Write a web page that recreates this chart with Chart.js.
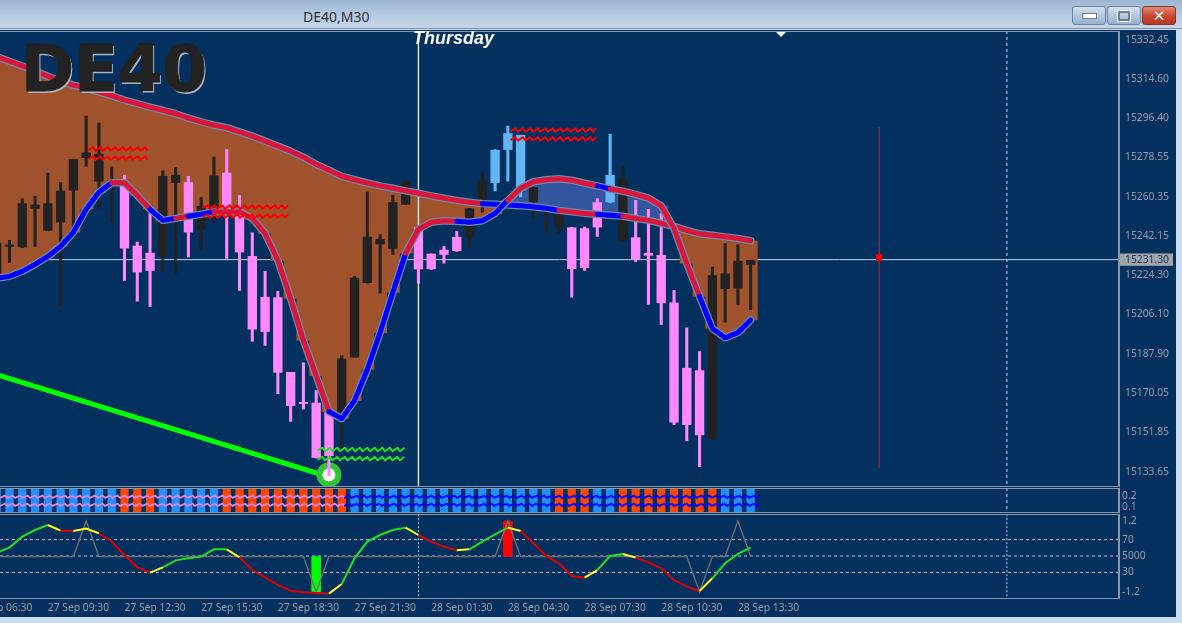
<!DOCTYPE html>
<html><head><meta charset="utf-8">
<script src="https://cdn.jsdelivr.net/npm/chart.js@4"></script>
<style>
html,body{margin:0;padding:0;width:1182px;height:623px;overflow:hidden;background:#c9dcf0;font-family:"Noto Sans",sans-serif}
#titlebar{position:absolute;left:0;top:0;width:1182px;height:29px;background:linear-gradient(#9db6d3,#b9cde3 60%,#c4d6ea);border-bottom:1px solid #7f93a8;box-sizing:border-box}
#title{position:absolute;left:303px;top:7px;font-size:14px;line-height:20px;color:#2b2f36}
.btn{position:absolute;top:6px;height:19px;border:1px solid #6f859c;border-radius:3px;box-sizing:border-box;background:linear-gradient(#d3e0ee,#b4c8de 50%,#98b2cf)}
#close{background:linear-gradient(#e48a74,#c9452f 55%,#b23a28);border-color:#7a3a30}
.glyph{position:absolute;left:0;top:0;width:100%;height:100%;display:flex;align-items:center;justify-content:center}
#panel{position:absolute;left:0;top:30px;width:1176px;height:587px;background:#03305f}
canvas{position:absolute;left:0;display:block}
.frame{position:absolute;left:-2px;width:1121px;border:1px solid #8a97a6;box-sizing:border-box;pointer-events:none}
#thu{position:absolute;left:413px;top:27px;font:italic bold 18px "Liberation Sans",sans-serif;line-height:22px;color:#fff}
#mark{position:absolute;left:776px;top:32px;width:0;height:0;border-left:5px solid transparent;border-right:5px solid transparent;border-top:5px solid #fff}
#sym{position:absolute;left:21px;top:31px;font:bold 64px "DejaVu Sans",sans-serif;line-height:76px;color:#222;-webkit-text-stroke:1px #222;text-shadow:1.5px 1.5px 0 #aab4be}
</style></head><body>
<div id="titlebar"><div id="title">DE40,M30</div>
<div class="btn" style="left:1072px;width:34px"><div class="glyph"><div style="width:13px;height:4px;background:#fff;border:1px solid #6d7f92"></div></div></div>
<div class="btn" style="left:1107px;width:34px"><div class="glyph"><div style="width:8px;height:6px;border:2px solid #6d7f92;outline:1px solid #fff"></div></div></div>
<div class="btn" id="close" style="left:1142px;width:34px"><div class="glyph" style="color:#fff;font:bold 15px 'DejaVu Sans'">✕</div></div>
</div>
<div id="panel"></div>
<canvas id="mainC" width="1176" height="456" style="top:31px"></canvas>
<canvas id="stripC" width="1176" height="25" style="top:488px"></canvas>
<canvas id="oscC" width="1176" height="103" style="top:514px"></canvas>
<div class="frame" style="top:31px;height:456px"></div>
<div class="frame" style="top:488px;height:25px"></div>
<div class="frame" style="top:514px;height:85px"></div>
<div id="thu">Thursday</div><div id="mark"></div><div id="sym">DE40</div>
<script>
// ---- candles (bar index -> price) ----
const wickHigh=[15238.8,15240.2,15259.4,15260.5,15271.2,15266.8,15277.6,15297.4,15294.2,15274.0,15270.2,15239.4,15252.6,15272.2,15273.7,15269.7,15259.9,15278.6,15282.0,15260.9,15243.7,15225.9,15216.7,15179.4,15183.8,15171.0,15161.3,15187.1,15223.6,15262.5,15242.8,15260.9,15267.9,15246.3,15233.9,15237.4,15244.3,15254.9,15271.6,15282.0,15292.8,15288.6,15264.6,15256.3,15254.9,15246.2,15246.3,15259.4,15289.1,15274.5,15258.6,15254.5,15252.5,15217.1,15199.9,15189.0,15227.9,15238.7,15238.2,15231.0];
const bodyHigh=[15238.8,15238.1,15257.1,15256.5,15257.1,15262.9,15277.4,15280.5,15279.9,15267.9,15266.8,15237.6,15234.3,15269.7,15270.2,15266.8,15255.9,15269.9,15271.2,15251.7,15232.8,15214.0,15213.8,15179.4,15165.6,15165.3,15161.0,15185.6,15222.8,15241.7,15240.7,15257.6,15267.1,15246.2,15233.9,15235.7,15241.6,15254.8,15267.4,15281.7,15289.4,15288.6,15264.5,15255.9,15254.5,15246.0,15245.6,15257.6,15270.2,15268.3,15241.4,15234.2,15233.3,15211.4,15181.3,15180.2,15224.0,15224.8,15230.6,15231.0];
const bodyLow=[15225.0,15237.4,15237.1,15254.9,15244.8,15248.6,15263.3,15278.3,15267.4,15266.0,15236.6,15225.6,15226.3,15233.3,15266.8,15244.0,15245.1,15255.4,15253.1,15234.8,15199.3,15198.2,15179.4,15164.1,15165.0,15140.2,15141.0,15158.1,15186.4,15220.7,15238.5,15236.5,15256.8,15227.0,15227.1,15233.7,15235.4,15241.7,15257.3,15266.8,15282.0,15263.3,15257.9,15253.1,15246.3,15227.1,15227.6,15246.3,15257.9,15240.2,15231.7,15233.3,15211.4,15156.4,15155.3,15150.6,15148.7,15217.9,15218.2,15229.1];
const wickLow=[15225.0,15230.0,15236.8,15237.4,15244.8,15210.2,15241.7,15274.3,15254.9,15248.6,15221.7,15212.2,15209.7,15226.0,15224.8,15232.5,15235.6,15248.5,15231.9,15217.1,15193.7,15191.8,15169.5,15156.8,15162.5,15139.9,15131.8,15144.2,15186.4,15220.5,15215.9,15233.7,15256.8,15220.4,15226.7,15229.7,15235.1,15237.1,15253.2,15262.9,15267.5,15260.2,15250.2,15244.0,15243.6,15214.0,15226.3,15242.0,15257.4,15239.9,15230.4,15210.7,15201.4,15155.3,15147.9,15135.9,15148.6,15202.5,15210.7,15208.2];
// 0 black, 1 pink, 2 light blue
const candleKind=[0,0,0,0,0,0,0,0,0,0,1,1,1,0,0,1,0,0,1,1,1,1,1,1,1,1,1,0,0,0,0,0,0,1,1,1,1,0,0,2,2,2,0,0,0,1,1,1,2,0,1,1,1,1,1,1,0,0,0,0];
// ---- moving averages (prices) and colour state per segment: 0 red, 1 blue ----
const slowLine=[15324.8,15322.7,15320.5,15318.2,15315.8,15313.5,15311.7,15310.3,15308.5,15306.8,15304.8,15303.2,15301.5,15300.1,15298.5,15296.5,15294.8,15293.2,15292.1,15290.2,15288.2,15285.9,15283.6,15281.2,15278.5,15275.2,15272.5,15269.7,15268.1,15266.6,15265.3,15264.2,15263.0,15261.9,15260.7,15259.6,15258.6,15257.7,15257.1,15256.8,15256.5,15256.1,15255.7,15255.0,15254.0,15253.3,15252.6,15252.2,15251.7,15251.3,15250.3,15249.4,15248.0,15246.6,15244.8,15243.2,15242.5,15241.8,15241.1,15240.0];
const fastLine=[15222.7,15223.6,15225.9,15229.1,15232.8,15237.4,15243.9,15254.5,15262.3,15266.7,15266.7,15260.9,15254.5,15249.4,15250.3,15251.3,15252.2,15253.3,15253.3,15253.3,15250.3,15243.4,15231.0,15213.4,15194.1,15177.9,15161.3,15158.1,15166.4,15180.7,15197.7,15216.2,15234.2,15245.3,15248.5,15249.2,15249.0,15248.5,15249.2,15252.6,15258.6,15264.2,15267.2,15268.1,15268.6,15267.9,15266.5,15265.3,15263.9,15262.8,15261.4,15259.6,15256.1,15245.7,15229.6,15214.4,15199.6,15195.3,15197.7,15203.5];
const slowState=[0,0,0,0,0,0,0,0,0,0,0,0,0,0,0,0,0,0,0,0,0,0,0,0,0,0,0,0,0,0,0,0,0,0,0,0,0,0,1,1,1,1,1,1,0,0,0,1,1,0,0,0,0,0,0,0,0,0,0,0];
const fastState=[1,1,1,1,1,1,1,1,1,0,0,0,1,1,0,1,1,0,0,0,0,0,0,0,0,0,1,1,1,1,1,1,0,0,0,0,1,1,1,1,0,0,0,0,0,0,0,1,0,0,0,0,0,0,0,1,1,1,1,1];
// ---- annotations ----
const bidPrice=15231.30;
const priceTicks=[15332.45,15314.60,15296.40,15278.55,15260.35,15242.15,15224.30,15206.10,15187.90,15170.05,15151.85,15133.65];
const daySeparator=33, futureSeparator=79.05, signalBar=69.05, signalTop=15292.3, signalBottom=15135.5, signalPrice=15232.3;
const trendBars=[0,26], trendPrices=[15178.4,15131.3];
const circleBar=26, circlePrice=15132.2;
const waveBands=[[7.15,11.8,15282.2,15278.0,'#ff0000'],[16.1,22.8,15255.4,15251.3,'#ff0000'],[40.2,46.9,15290.9,15286.8,'#ff0000'],[25.1,31.9,15143.8,15139.6,'#22e022']];
// ---- strip panel ----
const stripLabels=[0.2,0.1];
const stripState=[0,0,0,0,0,0,0,0,0,0,1,1,1,0,0,0,0,0,1,1,1,1,1,1,1,1,1,1,0,0,0,0,0,0,0,0,0,0,0,0,0,0,0,0,1,1,1,0,0,1,1,1,1,1,1,1,1,0,0,0];
// ---- oscillator panel ----
const oscValues=[54.1,60.2,73.6,81.7,87.8,80.9,80.5,83.4,77.7,67.5,51.2,36.2,29.7,36.2,44.7,47.2,49.2,58.1,58.1,48.4,32.9,24.0,14.7,7.7,5.7,4.9,4.1,15.9,47.2,67.5,75.6,81.7,84.6,75.6,67.5,61.4,56.9,58.1,67.5,76.4,84.6,80.5,65.5,50.0,41.1,25.6,23.6,32.9,50.0,52.5,48.0,42.3,35.0,20.7,12.6,7.3,22.8,41.1,52.5,60.2];
const oscState=[1,1,1,1,0,-1,0,0,-1,-1,-1,-1,0,1,1,1,1,1,0,-1,-1,-1,-1,-1,-1,-1,0,1,1,1,1,1,0,-1,-1,-1,0,1,1,1,0,-1,-1,-1,-1,-1,0,1,1,0,-1,-1,-1,-1,-1,0,1,1,1,1];
const signalHist=[0,0,0,0,0,0,0,1.2,0,0,0,0,0,0,0,0,0,0,0,0,0,0,0,0,0,-1.2,0,0,0,0,0,0,0,0,0,0,0,0,0,0,1.2,0,0,0,0,0,0,0,0,0,0,0,0,0,0,-1.2,0,0,1.2,0];
const spikeBars=[[25,-1.2,'#00ff00'],[40,1.2,'#ff0000']];
const oscLevels=[70,50,30];
const oscTickValues=[92.7,70,50,30,5.7];
const oscTickLabels=['1.2','70','5000','30','-1.2'];
const timeTicks=[-2,4,10,16,22,28,34,40,46,52,58];
const timeLabels=['27 Sep 06:30','27 Sep 09:30','27 Sep 12:30','27 Sep 15:30','27 Sep 18:30','27 Sep 21:30','28 Sep 01:30','28 Sep 04:30','28 Sep 07:30','28 Sep 10:30','28 Sep 13:30'];

// ---- styling and layout ----
const TICK='#8f9cab', FONT={family:'"Noto Sans"',size:10.3};
const barsIdx=wickHigh.map((_,i)=>i);
const xMin=0.258, xMax=87.82;
const kindColor=['#222222','#ff88ff','#62b6f5'];
const MA={0:'#dc143c',1:'#0000ff'};
const OSC={'1':'#22dd22','0':'#ffff22','-1':'#e00000'};
function xScale(display){return {type:'linear',min:xMin,max:xMax,offset:false,display:display===true,grid:{display:false},border:{display:false},ticks:{display:false},afterFit(s){s.paddingLeft=s.paddingRight=s.paddingTop=s.paddingBottom=0;}};}
function yScale(min,max,vals,o={}){return Object.assign({type:'linear',position:'right',min,max,grid:{display:false},border:{display:true,color:'#8a97a6'},
 afterBuildTicks(s){s.ticks=vals.map(v=>({value:v}));},
 afterFit(s){s.width=57;s.paddingTop=s.paddingBottom=0;}},o);}
function pts(xs,ys){return xs.map((x,i)=>({x,y:ys[i]}));}
function wavePlugin(bands,scaleId,amp){return {id:'waves'+scaleId,afterDatasetsDraw(c){
  const g=c.ctx,X=c.scales.x,Y=c.scales[scaleId];
  g.save();g.lineWidth=1.9;g.lineJoin='round';
  for(const [a,b,p1,p2,col,split,col2] of bands){for(const p of [p1,p2]){
    const draw=(from,to,cl)=>{const x0=X.getPixelForValue(from),x1=X.getPixelForValue(to),y=Y.getPixelForValue(p);
      g.strokeStyle=cl;g.beginPath();g.moveTo(x0,y+1);let x=x0,n=0;
      while(x<x1){x+=n%2?2.6:4.9;g.lineTo(Math.min(x,x1),y+(n%2?amp*0.8:-amp));n++;}g.stroke();};
    if(split!==undefined){draw(a,split,col);draw(split,b,col2);}else draw(a,b,col);
  }}
  g.restore();}};}
Chart.defaults.animation=false;Chart.defaults.responsive=false;Chart.defaults.font=FONT;
const base={responsive:false,animation:false,layout:{padding:0,autoPadding:false},plugins:{legend:{display:false},tooltip:{enabled:false}},events:[]};

const cloud=barsIdx.map(i=>({x:i,y:[Math.min(slowLine[i],fastLine[i]),Math.max(slowLine[i],fastLine[i])]}));
const cloudColors=barsIdx.map(i=>slowLine[i]>=fastLine[i]?'#a0522d':'#3355a0');
function maDatasets(vals,state,o){return [
 {type:'line',data:pts(barsIdx,vals),borderColor:'#6f8aa6',borderWidth:7.5,pointRadius:0,tension:0,order:o+1,borderJoinStyle:'round',borderCapStyle:'round'},
 {type:'line',data:pts(barsIdx,vals),borderColor:MA[0],borderWidth:5,pointRadius:0,tension:0,order:o,borderCapStyle:'round',borderJoinStyle:'round',
  segment:{borderColor:c=>MA[state[c.p0DataIndex]]}}];}

new Chart(document.getElementById('mainC'),{type:'bar',data:{datasets:[
 {type:'line',data:[{x:xMin,y:bidPrice},{x:xMax,y:bidPrice}],borderColor:'#c3ced8',borderWidth:1,pointRadius:0,order:30},
 {type:'bar',data:cloud,backgroundColor:cloudColors,barThickness:13.3,grouped:false,order:25},
 {type:'line',data:[{x:daySeparator,y:15336.6},{x:daySeparator,y:15126.6}],borderColor:'#e8edf2',borderWidth:1.4,pointRadius:0,order:20},
 {type:'line',data:[{x:futureSeparator,y:15336.6},{x:futureSeparator,y:15126.6}],borderColor:'#c3ced8',borderWidth:1,borderDash:[3,3],pointRadius:0,order:20},
 {type:'line',data:[{x:signalBar,y:signalTop},{x:signalBar,y:signalBottom}],borderColor:'#8e2a35',borderWidth:1.4,pointRadius:0,order:20},
 {type:'line',data:[{x:signalBar,y:signalPrice}],pointStyle:'rect',pointRadius:4.5,pointBackgroundColor:'#ff0000',pointBorderWidth:0,showLine:false,order:19},
 {type:'line',data:pts(trendBars,trendPrices),borderColor:'#00ff00',borderWidth:5,pointRadius:0,order:18},
 {type:'line',data:[{x:circleBar,y:circlePrice}],pointRadius:9.5,pointBorderWidth:6,pointBackgroundColor:'#fff',pointBorderColor:'#33c433',showLine:false,order:17},
 {type:'bar',data:barsIdx.map(i=>({x:i,y:[wickLow[i],wickHigh[i]]})),backgroundColor:barsIdx.map(i=>kindColor[candleKind[i]]),barThickness:2.4,grouped:false,order:12},
 {type:'bar',data:barsIdx.map(i=>({x:i,y:[bodyLow[i],bodyHigh[i]]})),backgroundColor:barsIdx.map(i=>kindColor[candleKind[i]]),barThickness:8.7,grouped:false,order:11},
 ...maDatasets(slowLine,slowState,4),...maDatasets(fastLine,fastState,2)
]},options:{...base,scales:{x:xScale(),y:yScale(15126.6,15336.6,[...priceTicks,bidPrice],{
 grid:{display:false,drawTicks:true,tickLength:3,tickColor:'#8a97a6'},
 ticks:{padding:3,crossAlign:'near',font:FONT,autoSkip:false,
  color:c=>c.tick.value===bidPrice?'#12345a':TICK,
  showLabelBackdrop:c=>c.tick.value===bidPrice,backdropColor:'#a0a6a8',backdropPadding:{top:0,bottom:0,left:5,right:4},
  callback:v=>v.toFixed(2)}})}},plugins:[wavePlugin(waveBands,'y',2)]});

const stripTop=0.275, stripBot=0.043;
new Chart(document.getElementById('stripC'),{type:'bar',data:{datasets:[
 {type:'line',data:[{x:futureSeparator,y:stripTop},{x:futureSeparator,y:stripBot}],borderColor:'#c3ced8',borderWidth:1,borderDash:[3,3],pointRadius:0,order:5},
 {type:'bar',data:barsIdx.map(i=>({x:i,y:[stripBot,stripTop]})),backgroundColor:barsIdx.map(i=>stripState[i]?'#ff4500':'#1e90ff'),barThickness:7.6,grouped:false,order:3}
]},options:{...base,scales:{x:xScale(),y:yScale(stripBot,stripTop,stripLabels,{
 ticks:{padding:3,crossAlign:'near',color:TICK,font:FONT,autoSkip:false,callback:v=>v.toFixed(1)},grid:{display:false,drawTicks:false}})}},
 plugins:[wavePlugin([[0.26,59.7,0.193,0.118,'#e080e0',27.2,'#0000ff']],'y',1.3)]});

new Chart(document.getElementById('oscC'),{type:'bar',data:{datasets:[
 ...oscLevels.map(l=>({type:'line',data:[{x:xMin,y:l},{x:xMax,y:l}],borderColor:'#b9c4cf',borderWidth:1,borderDash:[3,3],pointRadius:0,order:9})),
 {type:'line',data:[{x:daySeparator,y:101},{x:daySeparator,y:-2}],borderColor:'#b9c4cf',borderWidth:1,borderDash:[2,2],pointRadius:0,order:9},
 {type:'line',data:[{x:futureSeparator,y:101},{x:futureSeparator,y:-2}],borderColor:'#b9c4cf',borderWidth:1,borderDash:[2,2],pointRadius:0,order:9},
 {type:'bar',yAxisID:'y2',data:spikeBars.map(b=>({x:b[0],y:[0,b[1]]})),backgroundColor:spikeBars.map(b=>b[2]),barThickness:9,grouped:false,order:7},
 {type:'line',yAxisID:'y2',data:pts(barsIdx,signalHist),borderColor:'#6e6e6e',borderWidth:1.4,pointRadius:0,tension:0,order:6},
 {type:'line',data:pts(barsIdx,oscValues),borderColor:OSC[1],borderWidth:2,pointRadius:0,tension:0,order:1,
  segment:{borderColor:c=>OSC[oscState[c.p0DataIndex]]}}
]},options:{...base,scales:{
 x:Object.assign(xScale(true),{display:true,afterBuildTicks(s){s.ticks=timeTicks.map(v=>({value:v}));},
   grid:{display:false,drawOnChartArea:false,drawTicks:true,tickLength:3,tickColor:'#8a97a6'},
   ticks:{display:true,align:'start',maxRotation:0,minRotation:0,autoSkip:false,color:TICK,font:FONT,padding:1,
     callback:(v)=>timeLabels[timeTicks.indexOf(v)]},
   afterFit(s){s.height=18.7;s.paddingLeft=s.paddingRight=s.paddingTop=s.paddingBottom=0;}}),
 y:yScale(-1.58,101.2,oscTickValues,{ticks:{padding:3,crossAlign:'near',color:TICK,font:FONT,autoSkip:false,
   callback:v=>oscTickLabels[oscTickValues.indexOf(v)]},grid:{display:false,drawTicks:false}}),
 y2:{type:'linear',display:false,min:-1.413,max:1.437}
}}});
</script></body></html>
